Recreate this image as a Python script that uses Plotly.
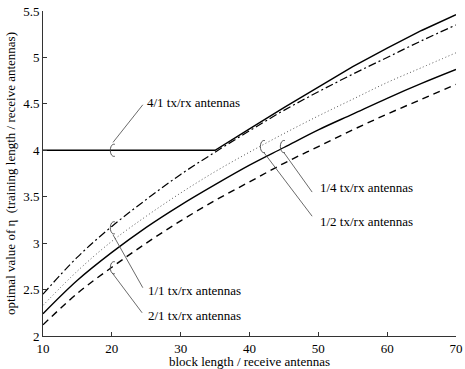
import plotly.graph_objects as go

# ---- data ----
block_len = [10, 15, 20, 25, 30, 35, 40, 45, 50, 55, 60, 65, 70]
eta_4_1 = [4.00, 4.00, 4.00, 4.00, 4.00, 4.00, 4.23, 4.46, 4.68, 4.90, 5.10, 5.29, 5.46]
eta_1_1 = [2.45, 2.85, 3.18, 3.47, 3.74, 3.98, 4.21, 4.43, 4.63, 4.82, 5.00, 5.18, 5.35]
eta_1_2 = [2.33, 2.70, 3.02, 3.29, 3.54, 3.77, 3.98, 4.18, 4.37, 4.55, 4.73, 4.89, 5.05]
eta_1_4 = [2.24, 2.60, 2.90, 3.17, 3.41, 3.63, 3.84, 4.03, 4.22, 4.39, 4.56, 4.72, 4.87]
eta_2_1 = [2.12, 2.46, 2.74, 3.00, 3.24, 3.46, 3.66, 3.86, 4.04, 4.22, 4.39, 4.55, 4.71]

x_ticks = [10, 20, 30, 40, 50, 60, 70]
y_ticks = [2, 2.5, 3, 3.5, 4, 4.5, 5, 5.5]
y_tick_labels = ["2", "2.5", "3", "3.5", "4", "4.5", "5", "5.5"]

# label: (text, circle centre, leader start, leader end, text position)
labels = [
    ("4/1 tx/rx antennas", (20.0, 4.00), (20.17, 4.085), (24.5, 4.49), (24.8, 4.52)),
    ("1/1 tx/rx antennas", (20.0, 3.165), (20.17, 3.09), (24.5, 2.52), (24.95, 2.49)),
    ("2/1 tx/rx antennas", (20.0, 2.735), (20.05, 2.68), (24.4, 2.25), (24.95, 2.22)),
    ("1/2 tx/rx antennas", (41.8, 4.04), (42.1, 3.975), (49.1, 3.29), (49.95, 3.235)),
    ("1/4 tx/rx antennas", (44.7, 4.04), (45.0, 3.975), (49.1, 3.55), (49.95, 3.60)),
]

FONT = "Liberation Serif"

fig = go.Figure()
fig.add_trace(go.Scatter(x=block_len, y=eta_2_1, mode="lines", line=dict(color="black", width=1.4, dash="7px,5px"), line_shape="spline"))
fig.add_trace(go.Scatter(x=block_len, y=eta_1_4, mode="lines", line=dict(color="black", width=1.4), line_shape="spline"))
fig.add_trace(go.Scatter(x=block_len, y=eta_1_2, mode="lines", line=dict(color="#555555", width=1.0, dash="1px,2.5px"), line_shape="spline"))
fig.add_trace(go.Scatter(x=block_len, y=eta_1_1, mode="lines", line=dict(color="black", width=1.2, dash="8px,3px,2px,3px"), line_shape="spline"))
fig.add_trace(go.Scatter(x=block_len, y=eta_4_1, mode="lines", line=dict(color="black", width=1.4), line_shape="linear"))

shapes = []
annotations = []
for text, (cx, cy), (lx0, ly0), (lx1, ly1), (tx, ty) in labels:
    shapes.append(dict(type="path", xref="x", yref="y", xsizemode="pixel", ysizemode="pixel",
                       xanchor=cx, yanchor=cy,
                       path="M 3,6 C -3,7.5 -3,-7.5 3,-6",
                       line=dict(color="#444444", width=0.9)))
    shapes.append(dict(type="line", xref="x", yref="y", x0=lx0, y0=ly0, x1=lx1, y1=ly1,
                       line=dict(color="#444444", width=0.8)))
    annotations.append(dict(x=tx, y=ty, xref="x", yref="y", text=text, showarrow=False,
                            xanchor="left", yanchor="middle",
                            font=dict(family=FONT, size=13, color="black")))

fig.update_layout(
    template="none",
    width=465, height=369,
    margin=dict(l=43, r=9, t=11, b=33, autoexpand=False),
    paper_bgcolor="white", plot_bgcolor="white",
    showlegend=False,
    shapes=shapes, annotations=annotations,
    font=dict(family=FONT, size=13, color="black"),
)
fig.update_xaxes(range=[10, 70], tickvals=x_ticks, ticks="inside", ticklen=4, automargin=False,
                 showline=True, linecolor="#333333", linewidth=1, showgrid=False, zeroline=False,
                 tickcolor="#333333", tickfont=dict(family=FONT, size=13),
                 title=dict(text="block length / receive antennas", standoff=0,
                            font=dict(family=FONT, size=13)))
fig.update_yaxes(range=[2, 5.5], tickvals=y_ticks, ticktext=y_tick_labels, ticks="inside", ticklen=4,
                 automargin=False,
                 showline=True, linecolor="#333333", linewidth=1, showgrid=False, zeroline=False,
                 tickcolor="#333333", tickfont=dict(family=FONT, size=13),
                 title=dict(text="optimal value of η  (training length / receive antennas)", standoff=4,
                            font=dict(family=FONT, size=13)))

fig.write_html("out.html", config={"displayModeBar": False},
               post_script="document.body.style.margin='0';")
